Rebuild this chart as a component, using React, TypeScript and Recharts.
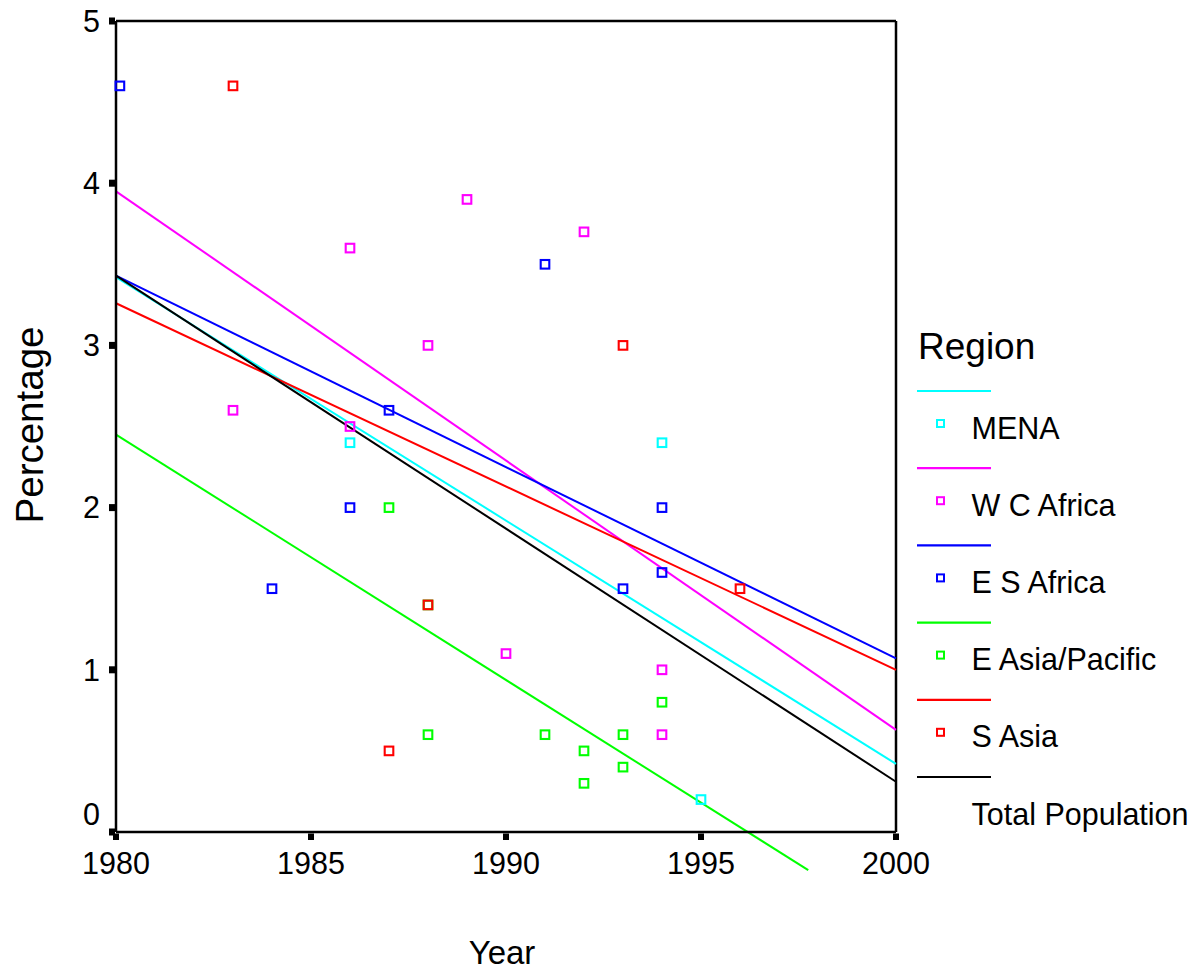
import React from 'react'
import { ComposedChart, XAxis, YAxis, Scatter, Line, ReferenceLine } from 'recharts'

const FONT = '"Liberation Sans", Arial, Helvetica, sans-serif'

// axis ticks
const YEAR_TICKS = [1980, 1985, 1990, 1995, 2000]
const PCT_TICKS = [0, 1, 2, 3, 4, 5]

// observed values per region
const MENA_POINTS = [
  { x: 1986, y: 2.4 }, { x: 1994, y: 2.4 }, { x: 1995, y: 0.2 },
]
const WCA_POINTS = [
  { x: 1983, y: 2.6 }, { x: 1986, y: 3.6 }, { x: 1986, y: 2.5 }, { x: 1988, y: 3.0 },
  { x: 1989, y: 3.9 }, { x: 1990, y: 1.1 }, { x: 1992, y: 3.7 }, { x: 1994, y: 1.0 },
  { x: 1994, y: 0.6 },
]
const ESA_POINTS = [
  { x: 1980.1, y: 4.6 }, { x: 1984, y: 1.5 }, { x: 1986, y: 2.0 }, { x: 1987, y: 2.6 },
  { x: 1991, y: 3.5 }, { x: 1993, y: 1.5 }, { x: 1994, y: 2.0 }, { x: 1994, y: 1.6 },
]
const EAP_POINTS = [
  { x: 1987, y: 2.0 }, { x: 1988, y: 1.4 }, { x: 1988, y: 0.6 }, { x: 1991, y: 0.6 },
  { x: 1992, y: 0.5 }, { x: 1992, y: 0.3 }, { x: 1993, y: 0.6 }, { x: 1993, y: 0.4 },
  { x: 1994, y: 0.8 },
]
const SA_POINTS = [
  { x: 1983, y: 4.6 }, { x: 1987, y: 0.5 }, { x: 1988, y: 1.4 }, { x: 1993, y: 3.0 },
  { x: 1996, y: 1.5 },
]

// fitted regression lines (end points)
const MENA_FIT = [{ x: 1980, y: 3.42 }, { x: 2000, y: 0.42 }]
const WCA_FIT = [{ x: 1980, y: 3.95 }, { x: 2000, y: 0.63 }]
const ESA_FIT = [{ x: 1980, y: 3.43 }, { x: 2000, y: 1.07 }]
const EAP_FIT = [{ x: 1980, y: 2.45 }, { x: 1997.75, y: -0.235 }]
const SA_FIT = [{ x: 1980, y: 3.26 }, { x: 2000, y: 1.0 }]
const TOTAL_FIT = [{ x: 1980, y: 3.43 }, { x: 2000, y: 0.31 }]

const REGIONS = ['MENA', 'W C Africa', 'E S Africa', 'E Asia/Pacific', 'S Asia']
const TOTAL_LABEL = 'Total Population'
const REGION_POINTS = [MENA_POINTS, WCA_POINTS, ESA_POINTS, EAP_POINTS, SA_POINTS]
const REGION_COLORS = ['#00ffff', '#ff00ff', '#0000ff', '#00ff00', '#ff0000']

const square = (color: string) => (props: any) => (
  <rect
    x={props.cx - 4.3}
    y={props.cy - 4.3}
    width={8.6}
    height={8.6}
    fill="none"
    stroke={color}
    strokeWidth={2.1}
  />
)

function YearTick({ x, y, payload }: any) {
  return (
    <g>
      <rect x={x - 3} y={y + 1.5} width={6} height={6.5} fill="#000" />
      <text x={x} y={y + 42} textAnchor="middle" fontSize={30.5} fontFamily={FONT} fill="#000">
        {payload.value}
      </text>
    </g>
  )
}

function PctTick({ x, y, payload }: any) {
  const v = payload.value
  // the 0 label sits above its tick so it clears the year labels
  const base = v === 0 ? y - 7 : y + 10.7
  return (
    <g>
      <rect x={x - 7} y={y - 3.5} width={6} height={7} fill="#000" />
      <text x={x - 16} y={base} textAnchor="end" fontSize={30.5} fontFamily={FONT} fill="#000">
        {v}
      </text>
    </g>
  )
}

function RegionLegend() {
  const rows = [...REGIONS, TOTAL_LABEL]
  const colors = [...REGION_COLORS, '#000']
  return (
    <svg width={1200} height={972} style={{ position: 'absolute', left: 0, top: 0, pointerEvents: 'none' }}>
      <text x={918} y={359.3} fontSize={37} fontFamily={FONT} fill="#000">Region</text>
      {rows.map((name, i) => {
        const ly = 391 + i * 77.2
        return (
          <g key={name}>
            <line x1={917} x2={991} y1={ly} y2={ly} stroke={colors[i]} strokeWidth={2.2} />
            {i < REGIONS.length && (
              <rect x={937} y={ly + 29} width={7} height={7} fill="none" stroke={colors[i]} strokeWidth={2} />
            )}
            <text x={971.5} y={ly + 47.5} fontSize={30.5} fontFamily={FONT} fill="#000">{name}</text>
          </g>
        )
      })}
    </svg>
  )
}

export default function App() {
  const fits = [MENA_FIT, WCA_FIT, ESA_FIT, null, SA_FIT]
  return (
    <div style={{ position: 'absolute', left: 0, top: 0, width: 1200, height: 972, background: '#fff' }}>
      <ComposedChart width={1200} height={972} margin={{ top: 21, right: 304, left: 56, bottom: 80 }}>
        <XAxis
          type="number"
          dataKey="x"
          domain={[1980, 2000]}
          ticks={YEAR_TICKS}
          interval={0}
          height={60}
          tickSize={0}
          tickMargin={0}
          tickLine={false}
          tick={<YearTick />}
          axisLine={{ stroke: '#000', strokeWidth: 2.5 }}
          label={({ viewBox }: any) => (
            <text
              x={viewBox.x + viewBox.width / 2 - 4}
              y={viewBox.y + 132}
              textAnchor="middle"
              fontSize={33}
              fontFamily={FONT}
              fill="#000"
            >
              Year
            </text>
          )}
        />
        <YAxis
          type="number"
          dataKey="y"
          domain={[0, 5]}
          ticks={PCT_TICKS}
          interval={0}
          width={60}
          tickSize={0}
          tickMargin={0}
          tickLine={false}
          tick={<PctTick />}
          axisLine={{ stroke: '#000', strokeWidth: 2.5 }}
          label={({ viewBox }: any) => {
            const cx = viewBox.x - 27.5
            const cy = viewBox.y + viewBox.height / 2 - 1.5
            return (
              <text
                x={cx}
                y={cy}
                dy={14}
                transform={`rotate(-90 ${cx} ${cy})`}
                textAnchor="middle"
                fontSize={38.5}
                fontFamily={FONT}
                fill="#000"
              >
                Percentage
              </text>
            )
          }}
        />
        <ReferenceLine y={5} stroke="#000" strokeWidth={2.5} />
        <ReferenceLine x={2000} stroke="#000" strokeWidth={2.5} />

        {REGION_POINTS.map((pts, i) => (
          <Scatter
            key={REGIONS[i]}
            name={REGIONS[i]}
            data={pts}
            dataKey="y"
            shape={square(REGION_COLORS[i])}
            isAnimationActive={false}
          />
        ))}

        {fits.map((fit, i) =>
          fit ? (
            <Line
              key={'fit-' + REGIONS[i]}
              data={fit}
              dataKey="y"
              stroke={REGION_COLORS[i]}
              strokeWidth={2}
              dot={false}
              activeDot={false}
              isAnimationActive={false}
            />
          ) : null
        )}
        {/* E Asia fit runs past the bottom of the frame */}
        <ReferenceLine
          segment={[EAP_FIT[0], EAP_FIT[1]]}
          ifOverflow="visible"
          stroke={REGION_COLORS[3]}
          strokeWidth={2}
        />
        <Line
          data={TOTAL_FIT}
          dataKey="y"
          stroke="#000"
          strokeWidth={2}
          dot={false}
          activeDot={false}
          isAnimationActive={false}
        />
      </ComposedChart>
      <RegionLegend />
    </div>
  )
}
